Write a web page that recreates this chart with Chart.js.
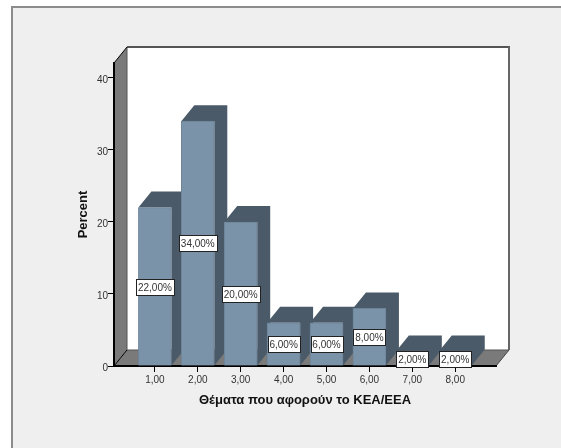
<!DOCTYPE html>
<html>
<head>
<meta charset="utf-8">
<script src="https://cdn.jsdelivr.net/npm/chart.js@4"></script>
<style>
    html, body { margin: 0; padding: 0; background: #fff; overflow: hidden; }
    #frame { position: absolute; left: 11px; top: 6px; width: 550px; height: 442px; box-sizing: border-box;
             background: #efefef; border-left: 2px solid #8c8c8c; border-top: 2px solid #8c8c8c; }
    canvas { position: absolute; left: 0; top: 0; }
</style>
</head>
<body>
<div id="frame"></div>
<canvas id="chart" width="561" height="448"></canvas>
<script>
// Values
var categories = [1, 2, 3, 4, 5, 6, 7, 8];
var percents = [22, 34, 20, 6, 6, 8, 2, 2];
var yTicks = [0, 10, 20, 30, 40];
var xTitle = 'Θέματα που αφορούν το ΚΕΑ/ΕΕΑ';
var yTitle = 'Percent';

// Depth of the fake 3D box, in pixels
var depthX = 13;
var depthY = 16;

function comma(value) {
    return value.toFixed(2).replace('.', ',');
}

function poly(ctx, points, fill) {
    ctx.beginPath();
    ctx.moveTo(points[0][0], points[0][1]);
    for (var i = 1; i < points.length; i++) {
        ctx.lineTo(points[i][0], points[i][1]);
    }
    ctx.closePath();
    ctx.fillStyle = fill;
    ctx.fill();
}

function line(ctx, x1, y1, x2, y2, color, width) {
    ctx.beginPath();
    ctx.moveTo(x1, y1);
    ctx.lineTo(x2, y2);
    ctx.strokeStyle = color;
    ctx.lineWidth = width;
    ctx.stroke();
}

// Back wall, left wall and floor
var boxPlugin = {
    id: 'box',
    beforeDraw: function (chart) {
        var ctx = chart.ctx;
        var a = chart.chartArea;
        ctx.save();
        poly(ctx, [[a.left + depthX, a.top - depthY], [a.right + depthX, a.top - depthY],
            [a.right + depthX, a.bottom - depthY], [a.left + depthX, a.bottom - depthY]], '#ffffff');
        poly(ctx, [[a.left, a.top], [a.left + depthX, a.top - depthY],
            [a.left + depthX, a.bottom - depthY], [a.left, a.bottom]], '#7a7a7a');
        poly(ctx, [[a.left, a.bottom], [a.left + depthX, a.bottom - depthY],
            [a.right + depthX, a.bottom - depthY], [a.right, a.bottom]], '#7a7a7a');
        line(ctx, a.left + depthX, a.top - depthY, a.right + depthX + 1, a.top - depthY, '#555555', 2);
        line(ctx, a.right + depthX, a.top - depthY, a.right + depthX, a.bottom - depthY, '#666666', 2);
        line(ctx, a.left + depthX, a.top - depthY, a.left + depthX, a.bottom - depthY, '#555555', 1);
        line(ctx, a.left + depthX, a.bottom - depthY, a.right + depthX, a.bottom - depthY, '#555555', 1);
        line(ctx, a.left, a.top, a.left + depthX, a.top - depthY, '#000000', 1);
        line(ctx, a.left, a.bottom, a.left + depthX, a.bottom - depthY, '#000000', 1);
        line(ctx, a.right, a.bottom, a.right + depthX, a.bottom - depthY, '#444444', 1);
        ctx.restore();
    },
    // Dark top and side faces of the bars
    beforeDatasetsDraw: function (chart) {
        var ctx = chart.ctx;
        var bars = chart.getDatasetMeta(0).data;
        ctx.save();
        bars.forEach(function (bar) {
            var left = bar.x - bar.width / 2;
            var right = bar.x + bar.width / 2;
            poly(ctx, [[left, bar.y], [left + depthX, bar.y - depthY], [right + depthX, bar.y - depthY],
                [right + depthX, bar.base - depthY], [right, bar.base], [right, bar.y]], '#4b5a68');
        });
        ctx.restore();
    },
    // White boxes with the percentages
    afterDatasetsDraw: function (chart) {
        var ctx = chart.ctx;
        var bars = chart.getDatasetMeta(0).data;
        ctx.save();
        ctx.font = '10px "Liberation Sans"';
        ctx.textAlign = 'center';
        ctx.textBaseline = 'middle';
        bars.forEach(function (bar, i) {
            var text = comma(percents[i]) + '%';
            var w = Math.round(ctx.measureText(text).width) + 4;
            var cy = Math.round((bar.y + bar.base) / 2);
            var left = Math.round(bar.x - w / 2) + 0.5;
            ctx.fillStyle = '#ffffff';
            ctx.fillRect(left, cy - 8 + 0.5, w, 16);
            ctx.strokeStyle = '#222222';
            ctx.lineWidth = 1;
            ctx.strokeRect(left, cy - 8 + 0.5, w, 16);
            ctx.fillStyle = '#333333';
            ctx.fillText(text, bar.x, cy + 1);
        });
        ctx.restore();
    }
};

var chart = new Chart(document.getElementById('chart').getContext('2d'), {
    type: 'bar',
    data: {
        datasets: [{
            data: categories.map(function (c, i) { return { x: c, y: percents[i] }; }),
            backgroundColor: '#7b93a9',
            borderColor: '#6d8499',
            borderWidth: 1,
            barThickness: 33
        }]
    },
    options: {
        responsive: false,
        animation: false,
        layout: { padding: { left: 76, top: 63, right: 65, bottom: 32 } },
        plugins: { legend: { display: false }, tooltip: { enabled: false } },
        scales: {
            x: {
                type: 'linear',
                offset: false,
                min: 0.047,
                max: 8.95,
                afterBuildTicks: function (scale) {
                    scale.ticks = categories.map(function (c) { return { value: c }; });
                },
                afterFit: function (scale) { scale.height = 50; },
                grid: { offset: false, drawOnChartArea: false, color: '#000000', tickLength: 6 },
                border: { color: '#000000', width: 2 },
                ticks: {
                    color: '#333333',
                    padding: 2,
                    maxRotation: 0,
                    autoSkip: false,
                    font: { family: 'Liberation Sans', size: 10 },
                    callback: function (value) { return comma(value); }
                },
                title: {
                    display: true,
                    text: xTitle,
                    color: '#111111',
                    padding: { top: 0, bottom: 8 },
                    font: { family: 'Liberation Sans', size: 13, weight: 'bold' }
                }
            },
            y: {
                min: 0,
                max: 42.08,
                afterBuildTicks: function (scale) {
                    scale.ticks = yTicks.map(function (t) { return { value: t }; });
                },
                afterFit: function (scale) { scale.width = 38; },
                grid: { drawOnChartArea: false, color: '#000000', tickLength: 6 },
                border: { color: '#000000', width: 2 },
                ticks: {
                    color: '#333333',
                    padding: 0,
                    labelOffset: 2,
                    font: { family: 'Liberation Sans', size: 10 }
                },
                title: {
                    display: true,
                    text: yTitle,
                    color: '#111111',
                    padding: 0,
                    font: { family: 'Liberation Sans', size: 13, weight: 'bold' }
                }
            }
        }
    },
    plugins: [boxPlugin]
});
</script>
</body>
</html>
